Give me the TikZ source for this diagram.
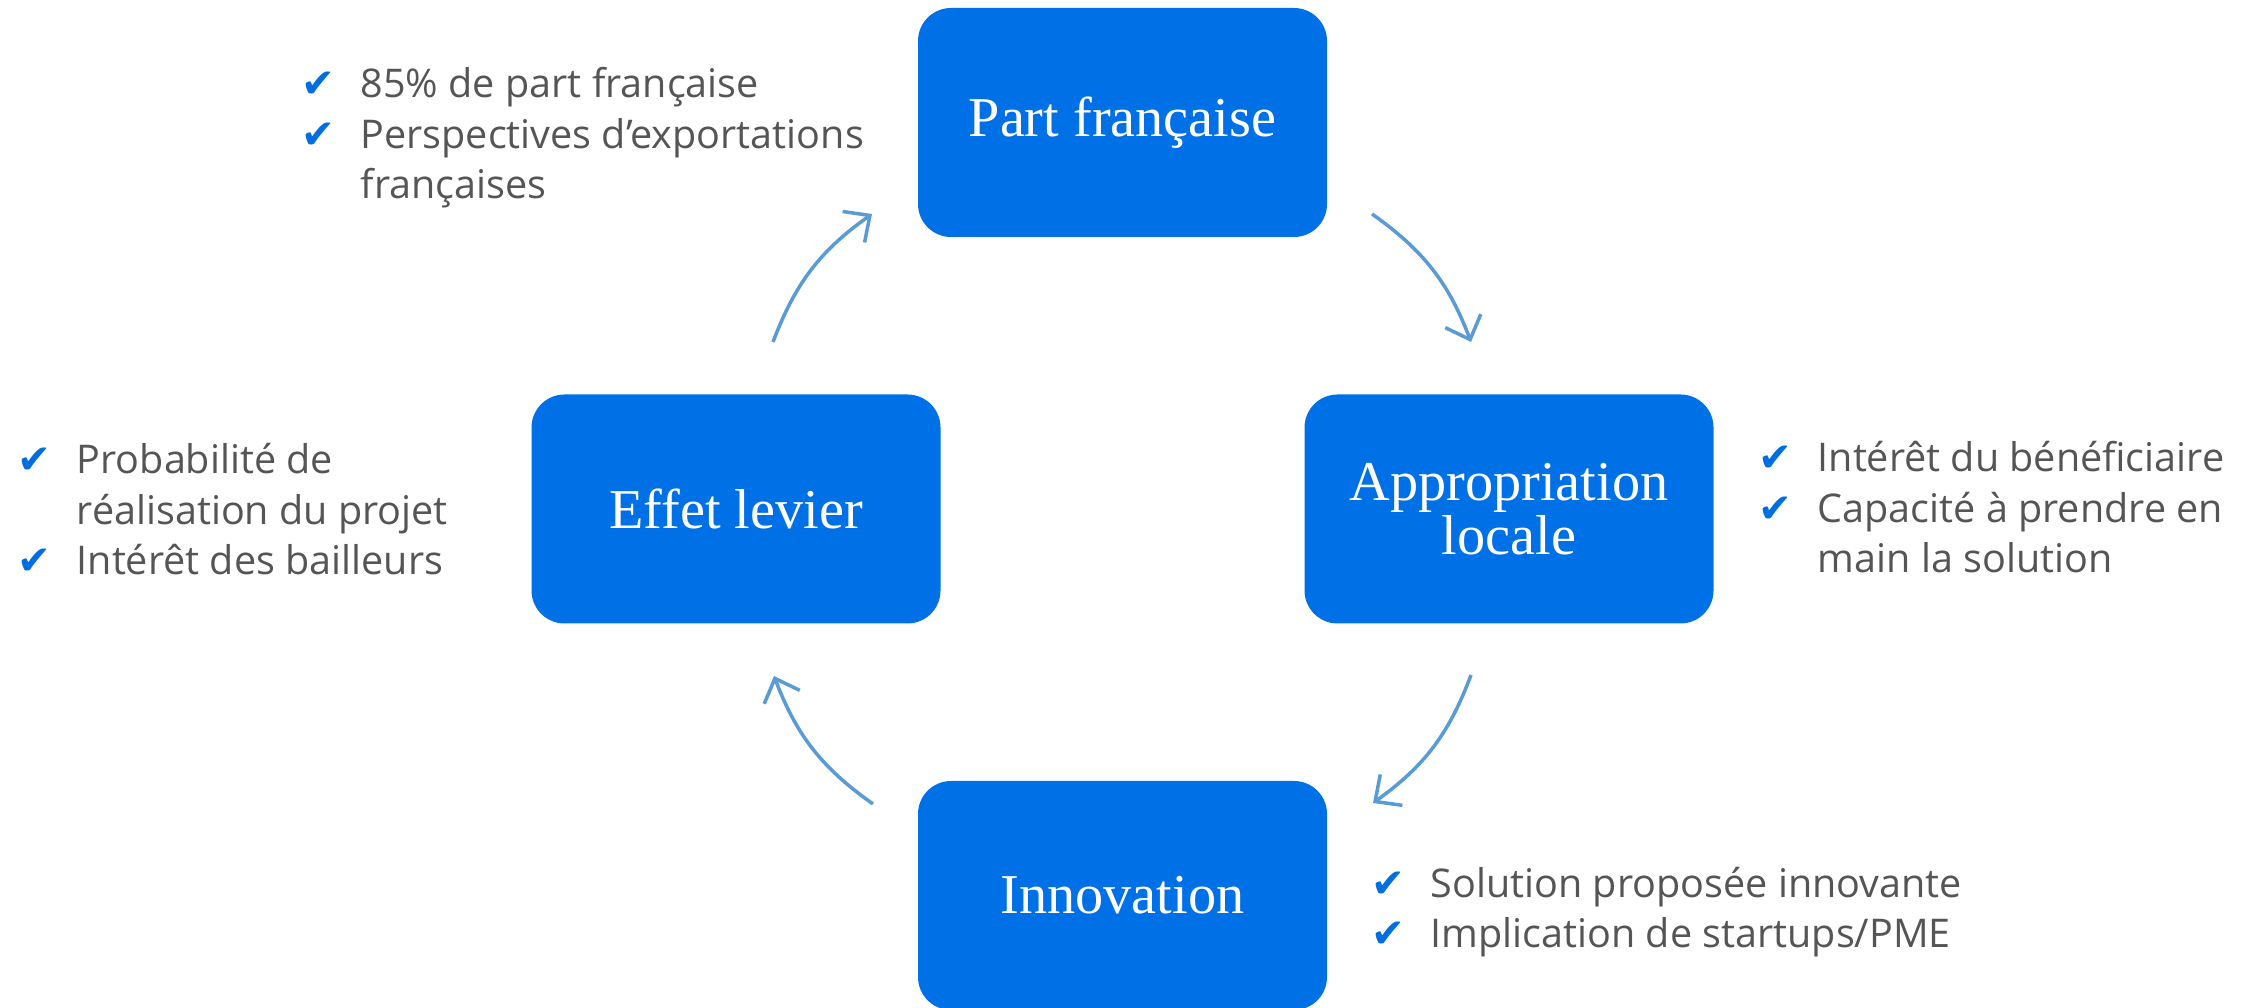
\documentclass[tikz,border=0pt]{standalone}
\usepackage{fontspec}
\setmainfont{Liberation Serif}
\setsansfont{Open Sans}
\newfontfamily\symfont{DejaVu Sans}
\usepackage{xcolor}
\usepackage{tikz}
\usetikzlibrary{
    arrows.meta,
    positioning
}

\definecolor{boxblue}{RGB}{0,112,230}
\definecolor{tickblue}{RGB}{0,110,225}
\definecolor{arrowblue}{RGB}{91,155,213}
\definecolor{textgray}{RGB}{85,85,85}

% check mark of fixed width, then the item text
\newcommand{\tick}{\makebox[5.9mm][l]{\textcolor{tickblue}{\symfont\fontsize{11.5}{12}\selectfont\char"2714}}}
\newcommand{\notick}{\hspace*{5.9mm}}

\begin{document}
\begin{tikzpicture}[
    box/.style={
        rectangle,
        rounded corners=3.3mm,
        fill=boxblue,
        draw=none,
        text=white,
        align=center,
        font=\fontsize{16}{15.5}\selectfont,
        minimum height=22.9mm,
        minimum width=40.9mm
    },
    list/.style={
        anchor=base west,
        inner sep=0pt,
        align=left,
        text=textgray,
        font=\sffamily\fontsize{11.25}{14.4}\selectfont
    },
    arrow/.style={-{Straight Barb[length=2mm,width=3.8mm]}, line width=1pt, arrowblue, bend left=17}
]
\useasboundingbox (0,0) rectangle (22.52,10.08);

% ===== Boxes =====
\node[box] (pf) at (11.225,8.855) {Part française};
\node[box] (al) at (15.09,4.99) {Appropriation\\locale};
\node[box] (el) at (7.36,4.99) {Effet levier};
\node[box] (inn) at (11.225,1.125) {Innovation};

% ===== Lists (placed at the baseline of their last line) =====
\node[list] (pflist) at (3.01,8.09) {\tick 85\% de part française\\
    \tick Perspectives d’exportations\\
    \notick françaises};
\node[list] (allist) at (17.58,4.35) {\tick Intérêt du bénéficiaire\\
    \tick Capacité à prendre en\\
    \notick main la solution};
\node[list] (ellist) at (0.17,4.33) {\tick Probabilité de\\
    \notick réalisation du projet\\
    \tick Intérêt des bailleurs};
\node[list] (innlist) at (13.71,0.60) {\tick Solution proposée innovante\\
    \tick Implication de startups/PME};

% ===== Cycle arrows =====
\coordinate (pf-out) at (13.72,7.94);
\coordinate (al-in) at (14.71,6.66);
\coordinate (al-out) at (14.71,3.33);
\coordinate (inn-in) at (13.73,2.05);
\coordinate (inn-out) at (8.73,2.04);
\coordinate (el-in) at (7.74,3.32);
\coordinate (el-out) at (7.73,6.66);
\coordinate (pf-in) at (8.72,7.94);

\draw[arrow] (pf-out) to (al-in);
\draw[arrow] (al-out) to (inn-in);
\draw[arrow] (inn-out) to (el-in);
\draw[arrow] (el-out) to (pf-in);

\end{tikzpicture}
\end{document}
